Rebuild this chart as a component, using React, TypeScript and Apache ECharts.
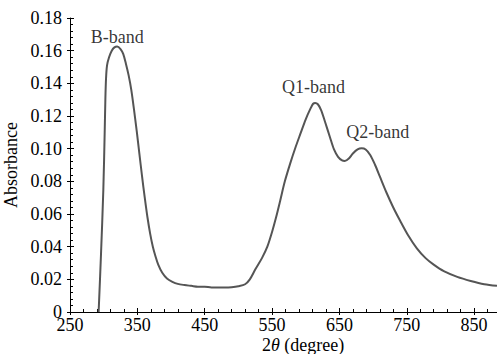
import React, { useEffect, useRef } from "react";
import * as echarts from "echarts";

const xValues = [
  292.5, 296, 299.5, 301.5, 302.5, 303.5, 305, 308, 312, 316, 320, 325, 329, 333, 337, 341, 345, 349, 353, 357,
  361, 365, 369, 373, 377, 381, 387, 394, 402, 410, 420, 430, 440, 450, 460, 470, 480, 490, 500, 510,
  517, 525, 535, 543, 550, 556, 562, 569, 577, 585, 592, 600, 607, 611, 614, 618, 623, 629, 636, 642,
  648, 654, 658, 664, 670, 677, 683, 689, 696, 703, 710, 720, 730, 740, 752, 765, 778, 790, 805, 825,
  845, 865, 884,
];
const yValues = [
  0, 0.035, 0.075, 0.11, 0.13, 0.143, 0.151, 0.156, 0.16, 0.162, 0.1625, 0.161, 0.158, 0.152, 0.145, 0.136, 0.124, 0.111, 0.097, 0.083,
  0.07, 0.058, 0.048, 0.04, 0.034, 0.029, 0.024, 0.0205, 0.0185, 0.0172, 0.0165, 0.016, 0.0155, 0.0155, 0.015, 0.015, 0.015, 0.0152, 0.0158, 0.017,
  0.02, 0.026, 0.033, 0.04, 0.049, 0.058, 0.068, 0.08, 0.091, 0.101, 0.109, 0.118, 0.1245, 0.1275, 0.128, 0.1272, 0.1235, 0.116, 0.107, 0.0995,
  0.095, 0.0928, 0.0925, 0.094, 0.097, 0.0995, 0.1002, 0.0995, 0.096, 0.09, 0.083, 0.073, 0.064, 0.056, 0.047, 0.039, 0.033, 0.029, 0.025, 0.0215,
  0.019, 0.017, 0.016,
];
const bandNames = ["B-band", "Q1-band", "Q2-band"];
const bandX = [320, 611.6, 707];
const bandY = [0.1684, 0.1378, 0.1102];
const xTickMin = 250;
const xTickMax = 884;
const yTickMax = 0.18;

const FONT = "Liberation Serif";

export default function App() {
  const ref = useRef<HTMLDivElement>(null);
  useEffect(() => {
    if (!ref.current) return;
    const chart = echarts.init(ref.current, null, { renderer: "svg" });
    const lineData = xValues.map((x, i) => [x, yValues[i]]);
    const labelData = bandNames.map((n, i) => ({ value: [bandX[i], bandY[i]], name: n }));
    const axisLineStyle = { color: "#000", width: 1 };
    chart.setOption({
      animation: false,
      grid: { left: 70, right: 0, top: 18, bottom: 42, containLabel: false, outerBoundsMode: "none" },
      graphic: [
        {
          type: "text",
          x: 262,
          y: 345,
          style: {
            text: "2{i|θ} (degree)",
            fill: "#000",
            fontFamily: FONT,
            fontSize: 18,
            verticalAlign: "middle",
            align: "left",
            rich: { i: { fontStyle: "italic", fontFamily: FONT, fontSize: 18, fill: "#000" } },
          },
        },
      ],
      xAxis: [
        {
          type: "value",
          min: xTickMin,
          max: xTickMax,
          interval: 100,
          position: "bottom",
          axisLine: { show: true, lineStyle: axisLineStyle },
          axisTick: { show: true, inside: true, length: 4, lineStyle: axisLineStyle },
          minorTick: { show: true, splitNumber: 5, length: 3, lineStyle: axisLineStyle },
          splitLine: { show: false },
          minorSplitLine: { show: false },
          axisLabel: {
            show: true,
            margin: 4,
            showMaxLabel: false,
            color: "#000",
            fontFamily: FONT,
            fontSize: 18,
          },
        },
        {
          type: "value",
          min: xTickMin,
          max: xTickMax,
          interval: 100,
          position: "bottom",
          axisLine: { show: false },
          axisTick: { show: true, inside: false, length: 3, lineStyle: axisLineStyle },
          splitLine: { show: false },
          axisLabel: { show: false },
        },
      ],
      yAxis: [
        {
          type: "value",
          min: 0,
          max: yTickMax,
          interval: 0.02,
          position: "left",
          axisLine: { show: true, lineStyle: axisLineStyle },
          axisTick: { show: true, inside: true, length: 4, lineStyle: axisLineStyle },
          minorTick: { show: true, splitNumber: 5, length: 3, lineStyle: axisLineStyle },
          splitLine: { show: false },
          minorSplitLine: { show: false },
          axisLabel: {
            show: true,
            margin: 8,
            color: "#000",
            fontFamily: FONT,
            fontSize: 18,
            formatter: (v: number) => (v === 0 ? "0" : v.toFixed(2)),
          },
          name: "Absorbance",
          nameLocation: "middle",
          nameGap: 47,
          nameRotate: 90,
          nameTextStyle: { color: "#000", fontFamily: FONT, fontSize: 18 },
        },
        {
          type: "value",
          min: 0,
          max: yTickMax,
          interval: 0.02,
          position: "left",
          axisLine: { show: false },
          axisTick: { show: true, inside: false, length: 3, lineStyle: axisLineStyle },
          splitLine: { show: false },
          axisLabel: { show: false },
        },
      ],
      series: [
        {
          type: "line",
          data: lineData,
          xAxisIndex: 0,
          yAxisIndex: 0,
          showSymbol: false,
          symbol: "none",
          smooth: 0.3,
          lineStyle: { color: "#555", width: 2 },
        },
        {
          type: "scatter",
          data: labelData,
          xAxisIndex: 0,
          yAxisIndex: 0,
          symbolSize: 0,
          label: {
            show: true,
            position: "inside",
            formatter: (p: any) => p.name,
            color: "#000",
            fontFamily: FONT,
            fontSize: 18,
          },
        },
      ],
    });
    return () => chart.dispose();
  }, []);
  return <div ref={ref} style={{ width: 497, height: 354, position: "absolute", left: 0, top: 0, background: "#fff" }} />;
}
